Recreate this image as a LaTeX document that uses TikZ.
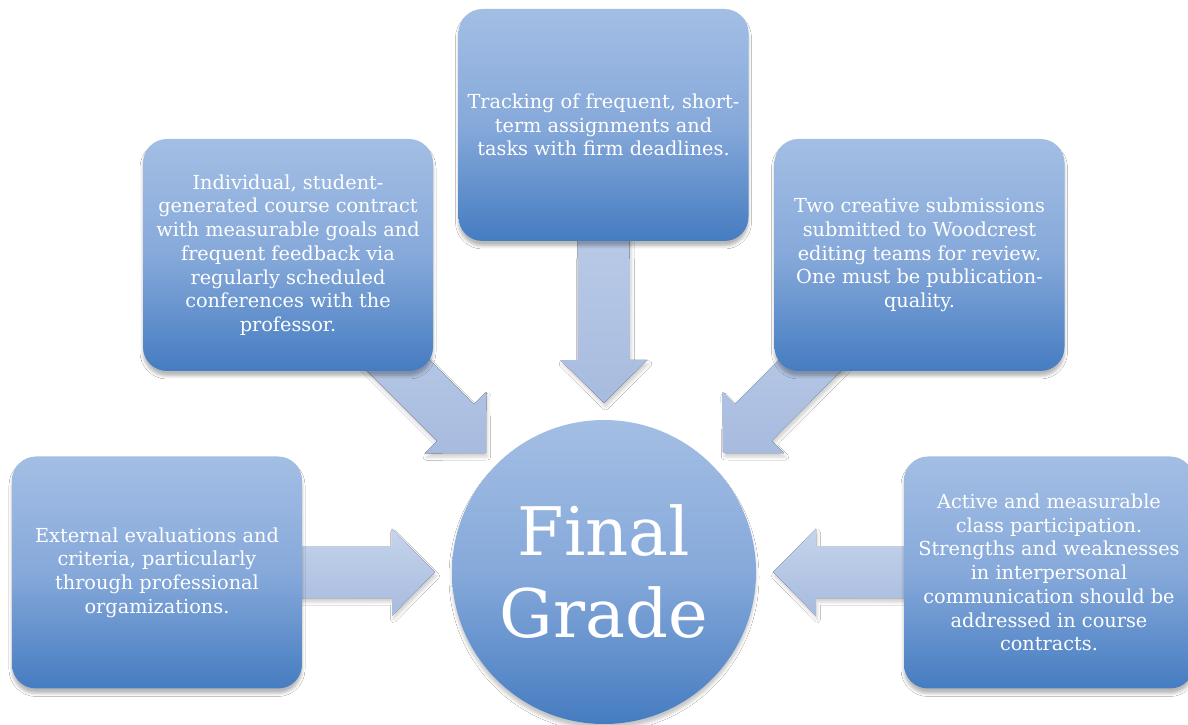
\documentclass[tikz,border=0pt]{standalone}
\usepackage{fontspec}
\setmainfont{DejaVu Serif}
\usetikzlibrary{calc,shadows.blur,backgrounds}
\definecolor{boxtop}{HTML}{A3BEE4}
\definecolor{boxmid}{HTML}{86A9DA}
\definecolor{boxbot}{HTML}{457CC1}
\definecolor{arrtop}{HTML}{C5D4EB}
\definecolor{arrbot}{HTML}{A7BBDF}
\tikzset{
  card/.style={rounded corners=24pt, minimum width=290pt, minimum height=232pt,
    top color=boxtop, bottom color=boxbot, middle color=boxmid,
    text=white, align=center, inner sep=0pt,
    font=\fontsize{19.3}{23.7}\selectfont,
    blur shadow={shadow xshift=0pt, shadow yshift=-5pt, shadow opacity=28, shadow blur radius=3pt}},
  hub/.style={circle, minimum size=304pt, inner sep=0pt,
    top color=boxtop, bottom color=boxbot, middle color=boxmid,
    text=white, align=center, font=\fontsize{67}{82}\selectfont,
    blur shadow={shadow xshift=0pt, shadow yshift=-5pt, shadow opacity=22, shadow blur radius=3pt}},
  arrowfill/.style={top color=arrtop, bottom color=arrbot,
    blur shadow={shadow xshift=1.5pt, shadow yshift=-4pt, shadow opacity=18, shadow blur radius=3pt}}
}
\newcommand\blockarrow[3]{%
  \coordinate (#3h) at ($(#2)!43pt!(#1)$);
  \fill[arrowfill] ($(#1)!26pt!90:(#2)$) -- ($(#3h)!26pt!90:(#2)$) -- ($(#3h)!43.5pt!90:(#2)$)
    -- (#2) -- ($(#3h)!43.5pt!-90:(#2)$) -- ($(#3h)!26pt!-90:(#2)$) -- ($(#1)!26pt!-90:(#2)$) -- cycle;
}
\begin{document}
\begin{tikzpicture}[x=1pt,y=1pt]
\useasboundingbox (0,0) rectangle (1188,725);

\node[hub] (fg) at (604,153) {Final\\Grade};

\node[card] (tl) at (288,470) {Individual, student-\\generated course contract\\with measurable goals and\\frequent feedback via\\regularly scheduled\\conferences with the\\professor.};
\node[card] (tc) at (603.5,600) {Tracking of frequent, short-\\term assignments and\\tasks with firm deadlines.};
\node[card] (tr) at (919.5,470) {Two creative submissions\\submitted to Woodcrest\\editing teams for review.\\One must be publication-\\quality.};
\node[card] (bl) at (157,152.5) {External evaluations and\\criteria, particularly\\through professional\\orgamizations.};
\node[card] (br) at (1049,152.5) {Active and measurable\\class participation.\\Strengths and weaknesses\\in interpersonal\\communication should be\\addressed in course\\contracts.};

\coordinate (tipT) at (604,322);
\coordinate (tipTL) at (486,272);
\coordinate (tipTR) at (723,272);
\coordinate (tipL) at (435,153);
\coordinate (tipR) at (773,153);

\begin{scope}[on background layer]
  \fill[white] (0,0) rectangle (1188,725);
  \blockarrow{tc}{tipT}{aT}
  \blockarrow{tl}{tipTL}{aTL}
  \blockarrow{tr}{tipTR}{aTR}
  \blockarrow{bl}{tipL}{aL}
  \blockarrow{br}{tipR}{aR}
\end{scope}
\end{tikzpicture}
\end{document}
